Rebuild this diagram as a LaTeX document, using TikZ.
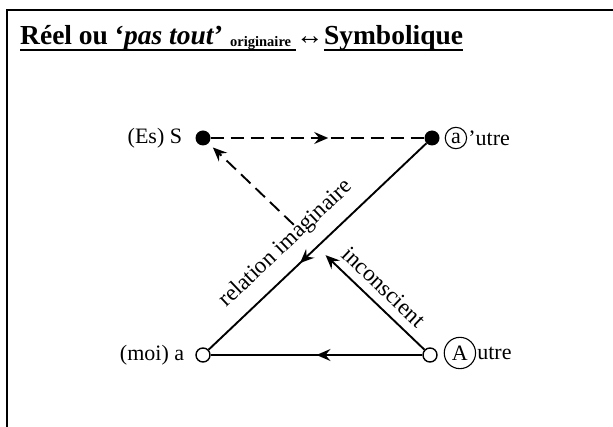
\documentclass[tikz,border=0pt]{standalone}
\usepackage{fontspec}
\setmainfont{Liberation Serif}
\usetikzlibrary{arrows.meta,positioning,decorations.markings,calc}

\begin{document}
\begin{tikzpicture}[x=1pt,y=-1pt,
 ttl/.style={inner sep=0pt,font=\fontsize{27.5}{30}\selectfont\bfseries},
 full/.style={circle,fill=black,inner sep=0pt,minimum size=15pt},
 hollow/.style={circle,draw,line width=1.4pt,fill=white,inner sep=0pt,minimum size=14pt},
 lab/.style={inner sep=1pt,font=\fontsize{22}{24}\selectfont},
 slant/.style={inner sep=0pt,font=\fontsize{23}{25}\selectfont},
 ring/.style={circle,draw,line width=1.1pt,inner sep=#1},
 link/.style={line width=1.9pt},
 dline/.style={line width=1.9pt,dash pattern=on 13pt off 7pt},
 midarr/.style={postaction={decorate},decoration={markings,
   mark=at position #1 with {\arrow{Stealth[length=14pt,width=12pt,inset=5pt]}}}}]
\useasboundingbox (0,0) rectangle (613,427);
% frame, open at right and bottom
\draw[line width=2pt] (7,430) -- (7,10) -- (616,10);
% title
\node[ttl,anchor=base west] (t1) at (20,45) {Réel ou ‘\textit{pas tout}’ \raisebox{-2pt}{\fontsize{14.5}{16}\selectfont originaire}\,};
\node[ttl,base right=0pt of t1] (t2) {↔};
\node[ttl,base right=0pt of t2] (t3) {Symbolique};
\draw[line width=2pt] ([yshift=-5pt]t1.base west) -- ([yshift=-5pt]t1.base east);
\draw[line width=2pt] ([yshift=-5pt]t3.base west) -- ([yshift=-5pt]t3.base east);
% the four places
\node[full] (S) at (203,138) {};
\node[full] (a) at (432,138) {};
\node[hollow] (moi) at (203,355) {};
\node[hollow] (A) at (430,355) {};
\node[lab,left=12pt of S] (Slab) {(Es) S};
\node[lab,left=10pt of moi] (moilab) {(moi) a};
\node[lab,ring=2.5pt,right=5pt of a] (aring) {a};
\node[lab,right=0pt of aring] (alab) {’utre};
\node[lab,ring=3.5pt,right=6pt of A,yshift=2pt] (Aring) {A};
\node[lab,right=0pt of Aring] (Alab) {utre};
\coordinate (gapA) at ($(A)!0.46!(S)$);
\coordinate (gapS) at ($(A)!0.60!(S)$);
% links
\draw[dline,midarr=0.55] (S) -- (a);
\draw[link,midarr=0.58] (a) -- (moi);
\draw[link,midarr=0.5] (A) -- (moi);
\draw[link,-{Stealth[length=14pt,width=12pt,inset=5pt]}] (A) -- (gapA);
\draw[dline,shorten >=6pt,-{Stealth[length=14pt,width=12pt,inset=5pt]}] (gapS) -- (S);
\node[slant,rotate=43.5] (rel) at (286,244) {relation imaginaire};
\node[slant,rotate=-43.7] (inc) at (384,287) {inconscient};
\end{tikzpicture}
\end{document}
